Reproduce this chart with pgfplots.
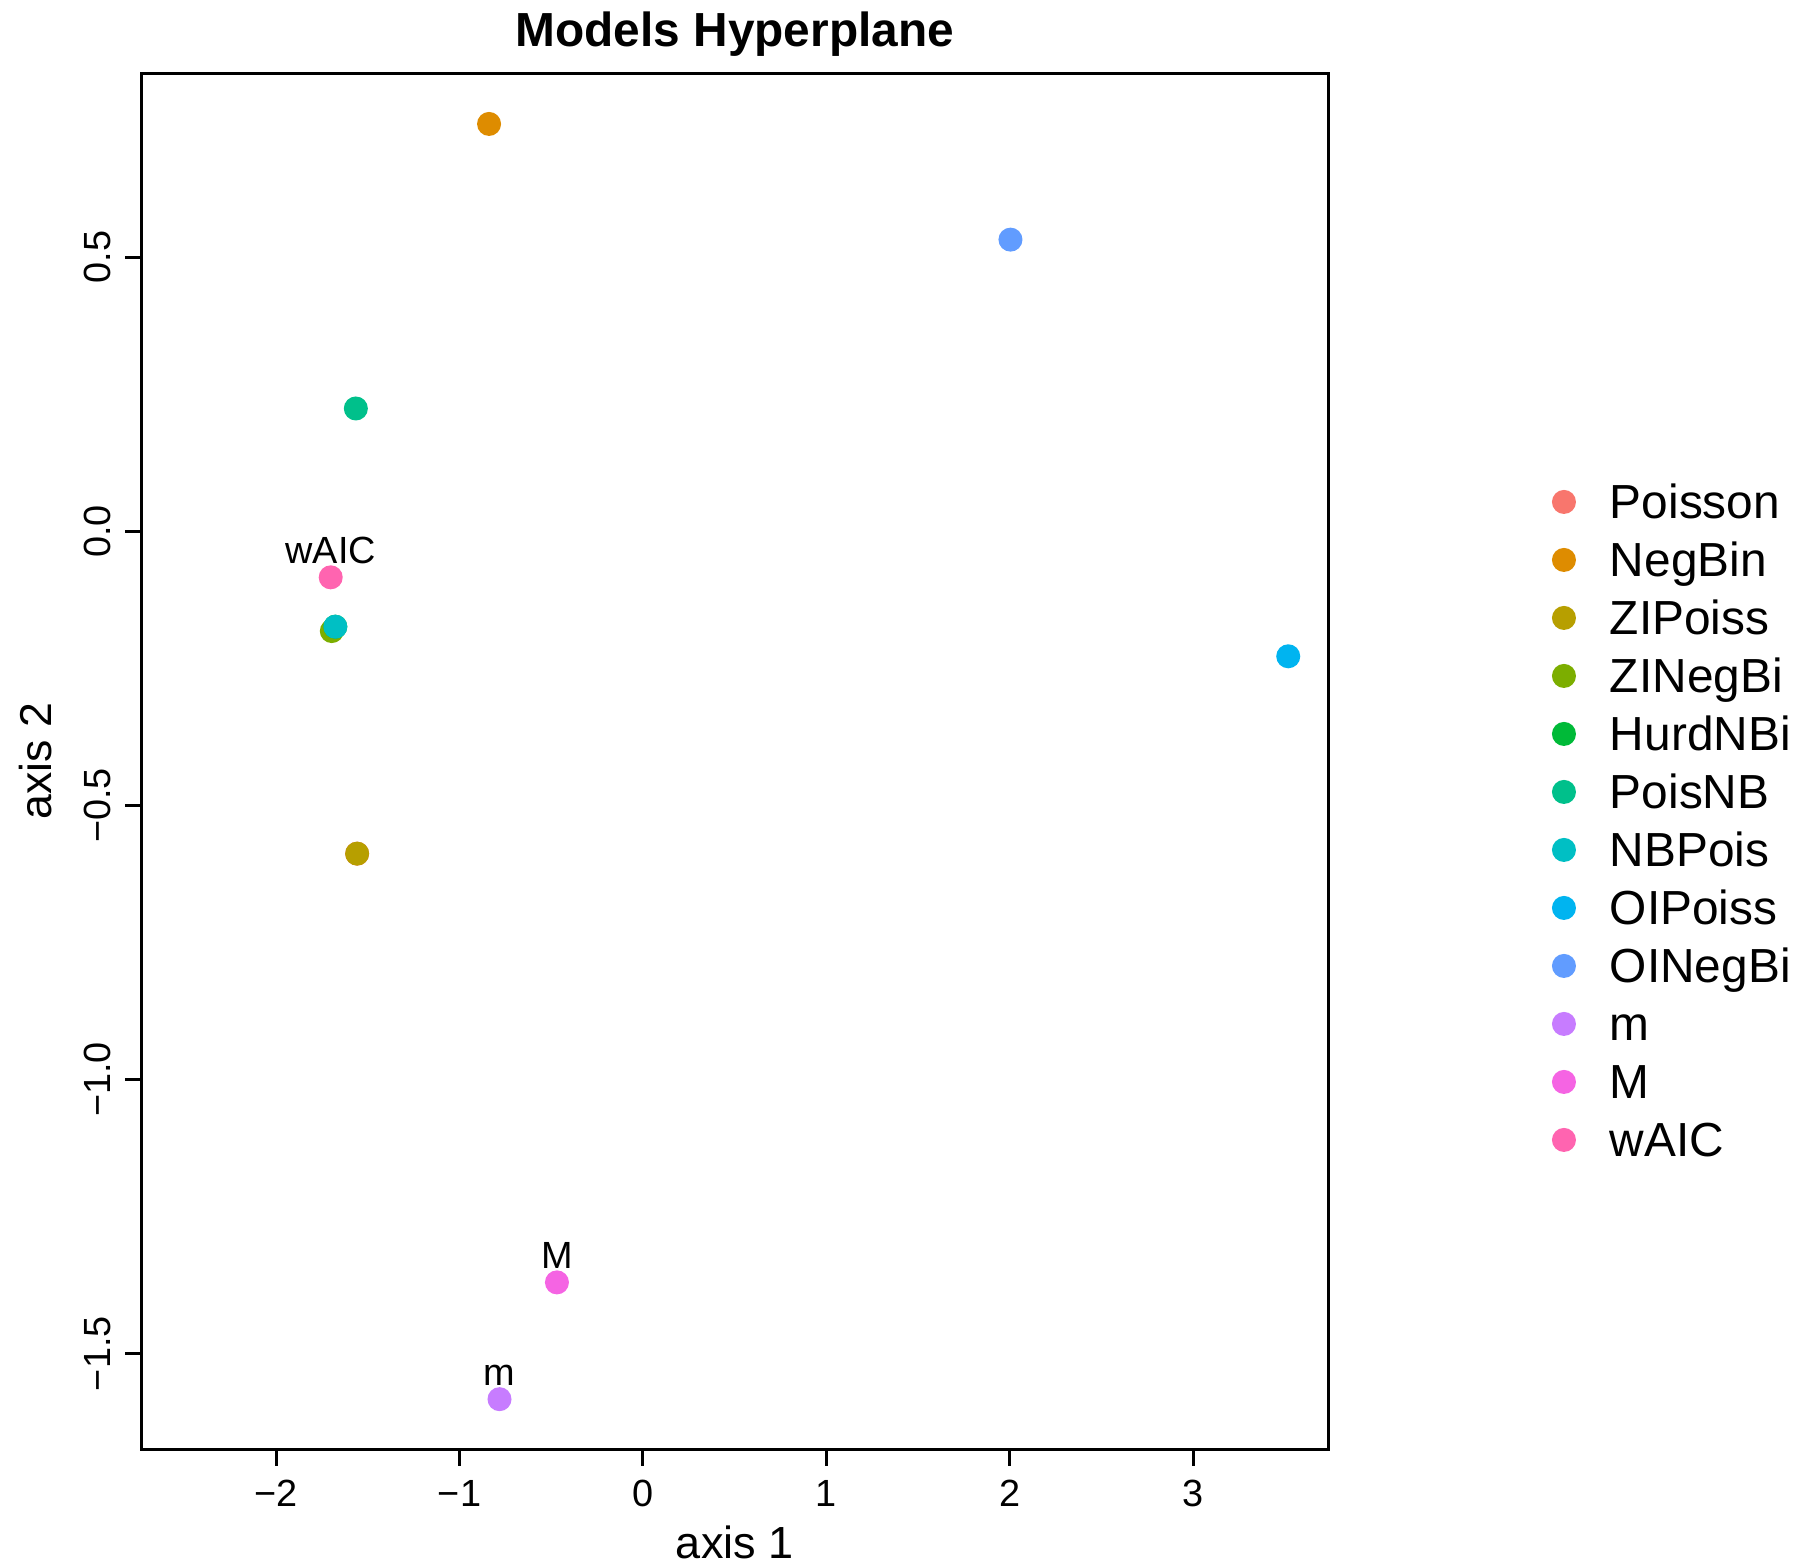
\documentclass[border=0pt]{standalone}
\usepackage{pgfplots}
\pgfplotsset{compat=1.18}
\usepackage{fontspec}
\setmainfont{Liberation Sans}
\definecolor{c1}{HTML}{F8766D}
\definecolor{c2}{HTML}{DE8C00}
\definecolor{c3}{HTML}{B79F00}
\definecolor{c4}{HTML}{7CAE00}
\definecolor{c5}{HTML}{00BA38}
\definecolor{c6}{HTML}{00C08B}
\definecolor{c7}{HTML}{00BFC4}
\definecolor{c8}{HTML}{00B4F0}
\definecolor{c9}{HTML}{619CFF}
\definecolor{c10}{HTML}{C77CFF}
\definecolor{c11}{HTML}{F564E3}
\definecolor{c12}{HTML}{FF64B0}
\begin{document}
\begin{tikzpicture}
\path[use as bounding box] (-35.3bp,-29.6bp) rectangle (414.7bp,362.4bp);
\begin{axis}[
  at={(0,0)}, anchor=south west,
  scale only axis, width=296.8bp, height=344.1bp,
  xmin=-2.735, xmax=3.736, ymin=-1.675, ymax=0.8356,
  xtick={-2,-1,0,1,2,3},
  xticklabels={−2,−1,0,1,2,3},
  ytick={-1.5,-1,-0.5,0,0.5},
  yticklabels={−1.5,−1.0,−0.5,0.0,0.5},
  tick align=outside, major tick length=4bp,
  xtick pos=bottom, ytick pos=left,
  axis line style={line width=0.75bp},
  every tick/.style={black, line width=0.75bp},
  tick label style={font=\fontsize{9.5}{11}\selectfont, inner sep=0pt},
  yticklabel style={rotate=90, anchor=south},
  xticklabel style={anchor=north},
  xticklabel shift=3.5bp, yticklabel shift=3.5bp,
  title={Models Hyperplane},
  title style={at={(axis description cs:0.5,1.0192)}, anchor=base, yshift=-6pt, inner sep=0pt, font=\bfseries\fontsize{12}{14}\selectfont},
  xlabel={axis 1},
  xlabel style={at={(axis description cs:0.5,-0.0793)}, anchor=base, inner sep=0pt, font=\fontsize{11.3}{13}\selectfont},
  ylabel={axis 2},
  ylabel style={at={(axis description cs:-0.0755,0.5)}, anchor=base, inner sep=0pt, font=\fontsize{11.2}{13}\selectfont},
  legend image code/.code={\draw[#1] plot coordinates {(0bp,0bp)};},
  legend style={at={(1.1883,0.7087)}, anchor=north west, draw=none, fill=none,
    inner sep=0pt, row sep=1bp,
    font=\fontsize{12}{14}\selectfont,
    nodes={inner sep=0pt, text height=11bp, text depth=2.5bp},
    /tikz/every odd column/.append style={column sep=8.7bp}},
  legend cell align=left,
  every axis plot/.append style={only marks, mark=*, mark size=2.8bp},
]
\addplot[c1, mark options={draw=c1, fill=c1}] coordinates {(-1.558,-0.588)};
\addlegendentry{Poisson}
\addplot[c2, mark options={draw=c2, fill=c2}] coordinates {(-0.839,0.743)};
\addlegendentry{NegBin}
\addplot[c3, mark options={draw=c3, fill=c3}] coordinates {(-1.558,-0.588)};
\addlegendentry{ZIPoiss}
\addplot[c4, mark options={draw=c4, fill=c4}] coordinates {(-1.696,-0.182)};
\addlegendentry{ZINegBi}
\addplot[c5, mark options={draw=c5, fill=c5}] coordinates {(-1.677,-0.174)};
\addlegendentry{HurdNBi}
\addplot[c6, mark options={draw=c6, fill=c6}] coordinates {(-1.565,0.224)};
\addlegendentry{PoisNB}
\addplot[c7, mark options={draw=c7, fill=c7}] coordinates {(-1.677,-0.174)};
\addlegendentry{NBPois}
\addplot[c8, mark options={draw=c8, fill=c8}] coordinates {(3.517,-0.228)};
\addlegendentry{OIPoiss}
\addplot[c9, mark options={draw=c9, fill=c9}] coordinates {(2.003,0.532)};
\addlegendentry{OINegBi}
\addplot[c10, mark options={draw=c10, fill=c10}] coordinates {(-0.782,-1.583)};
\addlegendentry{m}
\addplot[c11, mark options={draw=c11, fill=c11}] coordinates {(-0.469,-1.370)};
\addlegendentry{M}
\addplot[c12, mark options={draw=c12, fill=c12}] coordinates {(-1.702,-0.084)};
\addlegendentry{wAIC}
\node[anchor=base, inner sep=0pt, yshift=3.5bp, font=\fontsize{9.5}{11}\selectfont] at (axis cs:-1.702,-0.084) {wAIC};
\node[anchor=base, inner sep=0pt, yshift=3.5bp, font=\fontsize{9.5}{11}\selectfont] at (axis cs:-0.469,-1.370) {M};
\node[anchor=base, inner sep=0pt, yshift=3.5bp, font=\fontsize{9.5}{11}\selectfont] at (axis cs:-0.782,-1.583) {m};
\end{axis}
\end{tikzpicture}
\end{document}
